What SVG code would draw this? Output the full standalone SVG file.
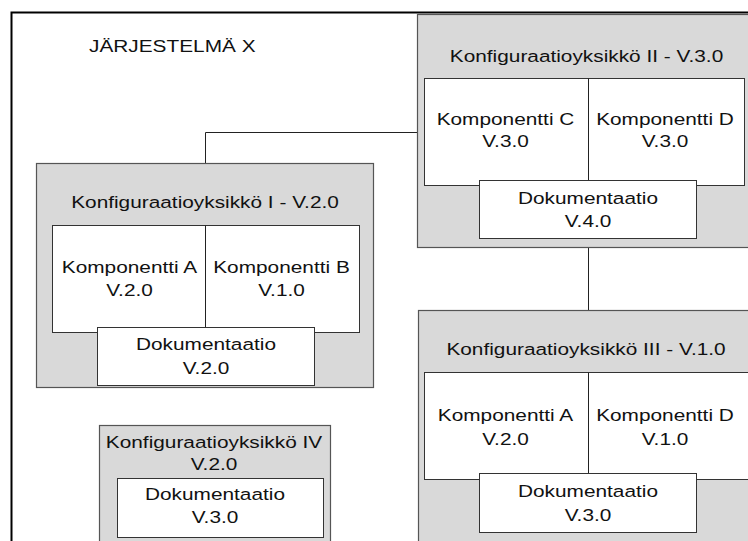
<svg xmlns="http://www.w3.org/2000/svg" width="748" height="541" viewBox="0 0 748 541">
<style>
text{font-family:"Liberation Sans",Arial,sans-serif;font-size:17px;fill:#111;text-anchor:middle}
.unit{fill:#d9d9d9;stroke:#555;stroke-width:1.2}
.inner{fill:#fff;stroke:#333;stroke-width:1}
.div{stroke:#222;stroke-width:1}
.conn{stroke:#222;stroke-width:1;fill:none}
</style>
<rect width="748" height="541" fill="#fff"/>
<g id="system">
<path d="M11.5,541 V12.5 H748" fill="none" stroke="#000" stroke-width="2"/>
<text transform="translate(89,52) scale(1.225,1)" style="text-anchor:start">JÄRJESTELMÄ X</text>
</g>
<g id="connectors">
<path class="conn" d="M205.5,163 V132.5 H417"/>
<path class="conn" d="M588.5,248 V310"/>
</g>
<g id="unit1">
<rect class="unit" x="36.5" y="163.5" width="337" height="224"/>
<text transform="translate(205,208) scale(1.225,1)">Konfiguraatioyksikkö I - V.2.0</text>
<rect class="inner" x="52.5" y="225.5" width="307" height="107"/>
<line class="div" x1="205.5" y1="225.5" x2="205.5" y2="332"/>
<text transform="translate(129.5,273) scale(1.225,1)">Komponentti A</text>
<text transform="translate(129.5,296) scale(1.225,1)">V.2.0</text>
<text transform="translate(281.5,273) scale(1.225,1)">Komponentti B</text>
<text transform="translate(281.5,296) scale(1.225,1)">V.1.0</text>
<rect class="inner" x="97.5" y="327.5" width="217" height="58"/>
<text transform="translate(206,349.5) scale(1.225,1)">Dokumentaatio</text>
<text transform="translate(206,374) scale(1.225,1)">V.2.0</text>
</g>
<g id="unit2">
<rect class="unit" x="417.5" y="14.5" width="340" height="233"/>
<text transform="translate(586.5,62) scale(1.225,1)">Konfiguraatioyksikkö II - V.3.0</text>
<rect class="inner" x="424.5" y="78.5" width="320" height="107"/>
<line class="div" x1="588.5" y1="78.5" x2="588.5" y2="185"/>
<text transform="translate(505.5,125) scale(1.225,1)">Komponentti C</text>
<text transform="translate(505.5,147) scale(1.225,1)">V.3.0</text>
<text transform="translate(665,125) scale(1.225,1)">Komponentti D</text>
<text transform="translate(665,147) scale(1.225,1)">V.3.0</text>
<rect class="inner" x="479.5" y="180.5" width="217" height="58"/>
<text transform="translate(588,203.5) scale(1.225,1)">Dokumentaatio</text>
<text transform="translate(588,226.5) scale(1.225,1)">V.4.0</text>
</g>
<g id="unit3">
<rect class="unit" x="418.5" y="310.5" width="340" height="240"/>
<text transform="translate(586,354.5) scale(1.225,1)">Konfiguraatioyksikkö III - V.1.0</text>
<rect class="inner" x="424.5" y="372.5" width="340" height="107"/>
<line class="div" x1="588.5" y1="372.5" x2="588.5" y2="479"/>
<text transform="translate(505.5,420.5) scale(1.225,1)">Komponentti A</text>
<text transform="translate(505.5,444.5) scale(1.225,1)">V.2.0</text>
<text transform="translate(665,420.5) scale(1.225,1)">Komponentti D</text>
<text transform="translate(665,444.5) scale(1.225,1)">V.1.0</text>
<rect class="inner" x="479.5" y="473.5" width="217" height="59"/>
<text transform="translate(588,497) scale(1.225,1)">Dokumentaatio</text>
<text transform="translate(588,520.5) scale(1.225,1)">V.3.0</text>
</g>
<g id="unit4">
<rect class="unit" x="99.5" y="425.5" width="231" height="130"/>
<text transform="translate(214,448) scale(1.225,1)">Konfiguraatioyksikkö IV</text>
<text transform="translate(214,470) scale(1.225,1)">V.2.0</text>
<rect class="inner" x="117.5" y="478.5" width="206" height="59"/>
<text transform="translate(215,499.5) scale(1.225,1)">Dokumentaatio</text>
<text transform="translate(215,523) scale(1.225,1)">V.3.0</text>
</g>
</svg>
